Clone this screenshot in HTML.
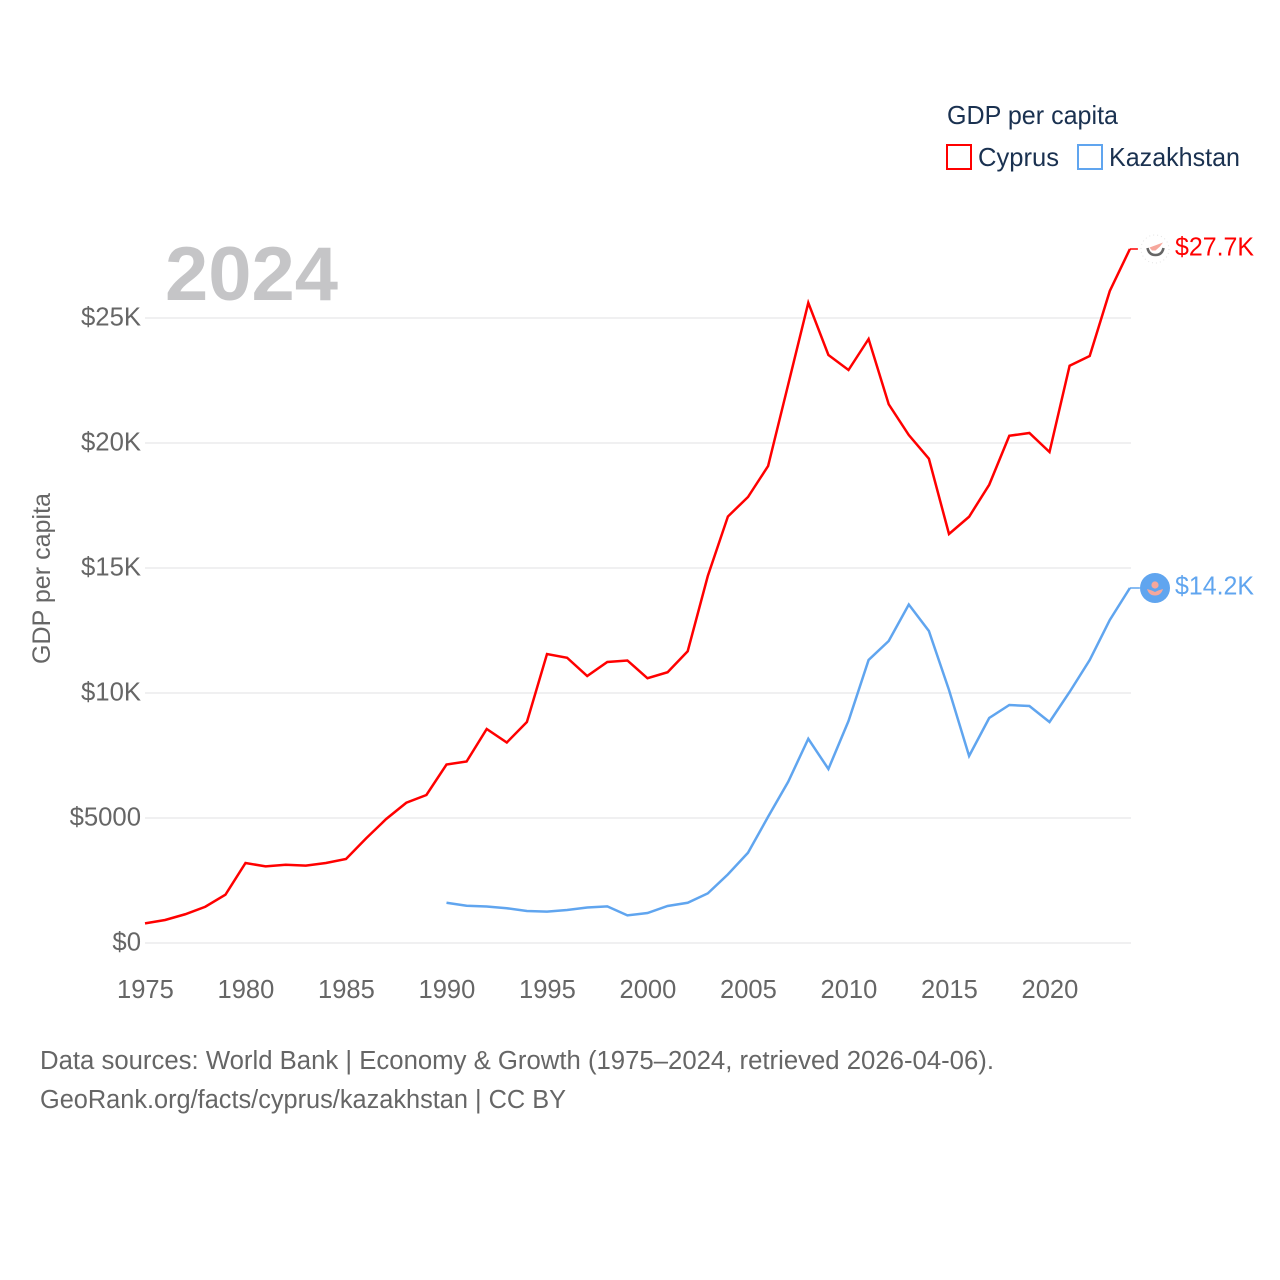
<!DOCTYPE html>
<html lang="en">
<head>
<meta charset="utf-8">
<title>GDP per capita: Cyprus and Kazakhstan</title>
<style>
html,body{margin:0;padding:0;background:#fff;width:1280px;height:1280px;overflow:hidden}
svg{display:block}
text{font-family:"Liberation Sans",Arial,sans-serif}
</style>
</head>
<body>
<svg id="chart" width="1280" height="1280" viewBox="0 0 1280 1280" xmlns="http://www.w3.org/2000/svg">
  <rect x="0" y="0" width="1280" height="1280" fill="#fff"/>
  <g id="grid"></g>
  <g id="yticks"></g>
  <g id="xticks"></g>
  <text x="165" y="300" font-size="76" font-weight="700" fill="#c5c5c7" textLength="173" lengthAdjust="spacingAndGlyphs">2024</text>
  <text transform="translate(50,664) rotate(-90)" font-size="25" fill="#666" textLength="171" lengthAdjust="spacingAndGlyphs">GDP per capita</text>
  <g id="series"></g>

  <g>
    <circle cx="1155" cy="249" r="14" fill="#fff" stroke="#e4e4e4" stroke-width="1" stroke-dasharray="1 3"/>
    <path d="M1147.5 248 Q1149 255 1155.5 255 Q1162 255 1163.5 248" fill="none" stroke="#666" stroke-width="2.6"/>
    <path d="M1149.5 247.5 L1155 245.5 L1163 242.5 L1160 246.5 L1155.5 250.5 L1152 250.5 Z" fill="#f6a79c"/>
  </g>
  <g>
    <circle cx="1155" cy="588" r="15" fill="#60a5ef"/>
    <circle cx="1155" cy="585" r="3.6" fill="#f6a79c"/>
    <path d="M1147 589 Q1151 590 1155 592 Q1159 590 1163 589 Q1161 595.5 1155 595.5 Q1149 595.5 1147 589 Z" fill="#f6a79c"/>
  </g>
  <text x="1175" y="255.5" font-size="25.5" fill="#ff0000" textLength="79" lengthAdjust="spacingAndGlyphs">$27.7K</text>
  <text x="1175" y="594.5" font-size="25.5" fill="#60a5ef" textLength="79" lengthAdjust="spacingAndGlyphs">$14.2K</text>

  <g>
    <text x="947" y="124" font-size="26" fill="#1a3150" textLength="171" lengthAdjust="spacingAndGlyphs">GDP per capita</text>
    <g>
      <rect x="947" y="145" width="24" height="24" fill="#fff" stroke="#ff0000" stroke-width="2"/>
      <text x="978" y="166" font-size="26" fill="#1a3150" textLength="81" lengthAdjust="spacingAndGlyphs">Cyprus</text>
    </g>
    <g>
      <rect x="1078" y="145" width="24" height="24" fill="#fff" stroke="#60a5ef" stroke-width="2"/>
      <text x="1109" y="166" font-size="26" fill="#1a3150" textLength="131" lengthAdjust="spacingAndGlyphs">Kazakhstan</text>
    </g>
  </g>

  <text x="40" y="1069" font-size="25.5" fill="#666" textLength="954" lengthAdjust="spacingAndGlyphs">Data sources: World Bank | Economy &amp; Growth (1975–2024, retrieved 2026-04-06).</text>
  <text x="40" y="1108" font-size="25.5" fill="#666" textLength="526" lengthAdjust="spacingAndGlyphs">GeoRank.org/facts/cyprus/kazakhstan | CC BY</text>
</svg>
<script>
var yTickValues = [0, 5000, 10000, 15000, 20000, 25000];
var yTickLabels = ["$0", "$5000", "$10K", "$15K", "$20K", "$25K"];
var xTickYears = [1975, 1980, 1985, 1990, 1995, 2000, 2005, 2010, 2015, 2020];
var cyprusStartYear = 1975;
var cyprusValues = [785, 920, 1150, 1450, 1930, 3200, 3065, 3130, 3095, 3200, 3360, 4185, 4960, 5610, 5920, 7140, 7260, 8560, 8020, 8840, 11560, 11410, 10680, 11240, 11300, 10590, 10830, 11670, 14680, 17060, 17840, 19080, 22340, 25610, 23520, 22920, 24160, 21550, 20320, 19370, 16360, 17050, 18330, 20290, 20400, 19640, 23090, 23480, 26080, 27760];
var kazakhstanStartYear = 1990;
var kazakhstanValues = [1610, 1490, 1460, 1390, 1280, 1255, 1320, 1420, 1465, 1105, 1200, 1480, 1610, 1985, 2745, 3610, 5050, 6450, 8170, 6960, 8880, 11320, 12080, 13540, 12480, 10120, 7480, 9000, 9520, 9480, 8840, 10040, 11320, 12920, 14200];

var NS = "http://www.w3.org/2000/svg";
function xScale(year) { return 145 + (year - 1975) * 20.1; }
function yScale(value) { return 943 - value * 0.025; }

var gridGroup = document.getElementById("grid");
var yTickGroup = document.getElementById("yticks");
var xTickGroup = document.getElementById("xticks");
var seriesGroup = document.getElementById("series");

yTickValues.forEach(function (value, i) {
  var line = document.createElementNS(NS, "line");
  
  
  line.setAttribute("x1", 145);
  line.setAttribute("x2", 1131);
  line.setAttribute("y1", yScale(value));
  line.setAttribute("y2", yScale(value));
  line.setAttribute("stroke", "#f0f0f1");
  line.setAttribute("stroke-width", "2");
  gridGroup.appendChild(line);

  var label = document.createElementNS(NS, "text");
  
  
  label.setAttribute("x", 141);
  label.setAttribute("y", yScale(value) + 7.5);
  label.setAttribute("text-anchor", "end");
  label.setAttribute("font-size", "25.7");
  label.setAttribute("fill", "#666");
  label.textContent = yTickLabels[i];
  yTickGroup.appendChild(label);
});

xTickYears.forEach(function (year) {
  var label = document.createElementNS(NS, "text");
  
  
  label.setAttribute("x", xScale(year) + 0.4);
  label.setAttribute("y", 998);
  label.setAttribute("text-anchor", "middle");
  label.setAttribute("font-size", "25.5");
  label.setAttribute("fill", "#666");
  label.textContent = String(year);
  xTickGroup.appendChild(label);
});

function seriesPoints(startYear, values) {
  return values.map(function (value, i) {
    return xScale(startYear + i).toFixed(2) + "," + yScale(value).toFixed(2);
  }).join(" ");
}

var cyprusLine = document.createElementNS(NS, "polyline");


cyprusLine.setAttribute("points", seriesPoints(cyprusStartYear, cyprusValues));
cyprusLine.setAttribute("fill", "none");
cyprusLine.setAttribute("stroke", "#ff0000");
cyprusLine.setAttribute("stroke-width", "2.5");
seriesGroup.appendChild(cyprusLine);

var kazakhstanLine = document.createElementNS(NS, "polyline");


kazakhstanLine.setAttribute("points", seriesPoints(kazakhstanStartYear, kazakhstanValues));
kazakhstanLine.setAttribute("fill", "none");
kazakhstanLine.setAttribute("stroke", "#60a5ef");
kazakhstanLine.setAttribute("stroke-width", "2.5");
seriesGroup.appendChild(kazakhstanLine);

var cyprusLast = cyprusValues[cyprusValues.length - 1];
var cyprusConnector = document.createElementNS(NS, "line");


cyprusConnector.setAttribute("x1", xScale(2024));
cyprusConnector.setAttribute("x2", xScale(2024) + 8);
cyprusConnector.setAttribute("y1", yScale(cyprusLast));
cyprusConnector.setAttribute("y2", yScale(cyprusLast));
cyprusConnector.setAttribute("stroke", "#ff0000");
cyprusConnector.setAttribute("stroke-width", "1.5");
seriesGroup.appendChild(cyprusConnector);

var kazakhstanLast = kazakhstanValues[kazakhstanValues.length - 1];
var kazakhstanConnector = document.createElementNS(NS, "line");


kazakhstanConnector.setAttribute("x1", xScale(2024));
kazakhstanConnector.setAttribute("x2", xScale(2024) + 10);
kazakhstanConnector.setAttribute("y1", yScale(kazakhstanLast));
kazakhstanConnector.setAttribute("y2", yScale(kazakhstanLast));
kazakhstanConnector.setAttribute("stroke", "#60a5ef");
kazakhstanConnector.setAttribute("stroke-width", "1.5");
seriesGroup.appendChild(kazakhstanConnector);
</script>
</body>
</html>
